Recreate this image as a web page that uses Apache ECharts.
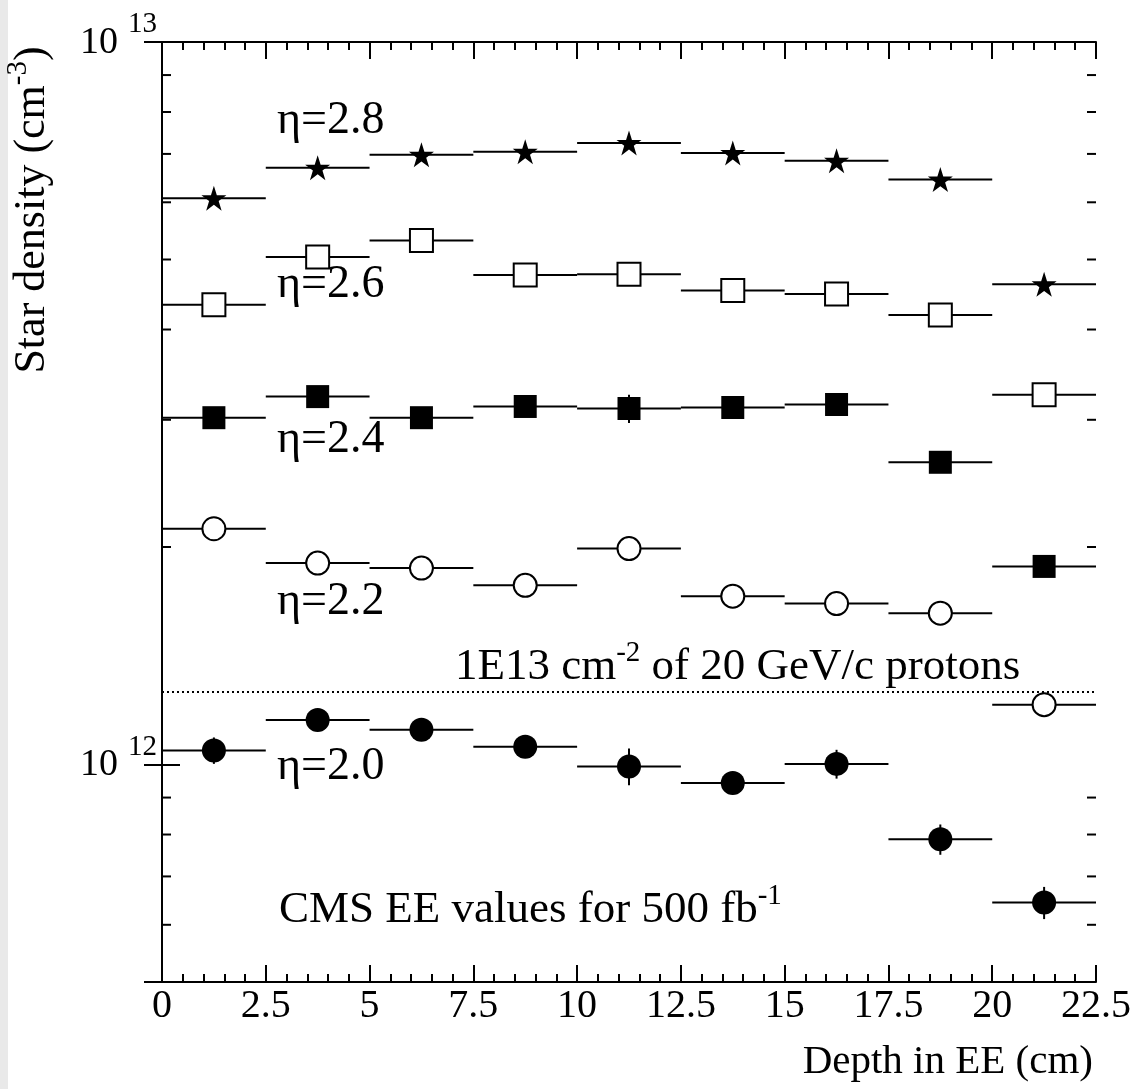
<!DOCTYPE html>
<html>
<head>
<meta charset="utf-8">
<title>Star density vs depth in EE</title>
<script src="https://cdn.jsdelivr.net/npm/echarts@6.0.0/dist/echarts.min.js"></script>
<style>
  html, body { margin: 0; padding: 0; background: #fff; }
  #chart { width: 1140px; height: 1089px; }
</style>
</head>
<body>
<div id="chart"></div>
<script>
// bin centres along the depth (cm), each bin is 2.5 cm wide
const depth = [1.25, 3.75, 6.25, 8.75, 11.25, 13.75, 16.25, 18.75, 21.25];
const halfBin = 1.25;

// star densities (cm^-3), one array per eta
const eta28 = [6.08e12, 6.70e12, 6.98e12, 7.05e12, 7.25e12, 7.02e12, 6.85e12, 6.45e12, 4.62e12];
const eta26 = [4.33e12, 5.04e12, 5.31e12, 4.76e12, 4.77e12, 4.53e12, 4.48e12, 4.19e12, 3.25e12];
const eta24 = [3.02e12, 3.23e12, 3.02e12, 3.13e12, 3.11e12, 3.12e12, 3.15e12, 2.62e12, 1.88e12];
const eta22 = [2.12e12, 1.90e12, 1.87e12, 1.77e12, 1.99e12, 1.71e12, 1.67e12, 1.62e12, 1.21e12];
const eta20 = [1.046e12, 1.152e12, 1.117e12, 1.058e12, 0.994e12, 0.943e12, 1.002e12, 0.788e12, 0.644e12];

// vertical errors (mostly hidden under the markers)
const err28 = [0, 0, 0, 0.08e12, 0, 0, 0, 0, 0];
const err26 = [0, 0, 0, 0, 0, 0, 0.15e12, 0, 0.12e12];
const err24 = [0, 0, 0, 0, 0.14e12, 0, 0, 0, 0];
const err22 = [0, 0, 0, 0, 0, 0, 0, 0, 0];
const err20 = [0.044e12, 0, 0, 0, 0.058e12, 0, 0.046e12, 0.038e12, 0.033e12];

// 1E13 cm^-2 of 20 GeV/c protons reference level
const protonLevel = 1.26e12;

// axis ranges and minor ticks of the log axis
const xMin = 0, xMax = 22.5, xStep = 2.5;
const yMin = 5e11, yMax = 1e13;
const yMinorTicks = [6e11, 7e11, 8e11, 9e11, 2e12, 3e12, 4e12, 5e12, 6e12, 7e12, 8e12, 9e12];

const FONT = '"Liberation Serif", "DejaVu Serif", serif';
const starPath = 'path://M50,0 L61.2,34.5 L97.6,34.5 L68.2,55.9 L79.4,90.5 L50,69.1 L20.6,90.5 L31.8,55.9 L2.4,34.5 L38.8,34.5 Z';

const chart = echarts.init(document.getElementById('chart'));

// horizontal bin width + vertical error, drawn through the axes
function errorBars(name, values, errs) {
  return {
    name: name + ' err',
    type: 'custom',
    z: 2,
    silent: true,
    data: values.map((v, i) => [depth[i], v, errs[i]]),
    renderItem: (params, api) => {
      const x = api.value(0), y = api.value(1), e = api.value(2);
      const a = api.coord([x - halfBin, y]);
      const b = api.coord([x + halfBin, y]);
      const children = [{
        type: 'line',
        shape: { x1: a[0], y1: a[1], x2: b[0], y2: b[1] },
        style: { stroke: '#000', lineWidth: 2 }
      }];
      if (e > 0) {
        const lo = api.coord([x, y - e]);
        const hi = api.coord([x, y + e]);
        children.push({
          type: 'line',
          shape: { x1: lo[0], y1: lo[1], x2: hi[0], y2: hi[1] },
          style: { stroke: '#000', lineWidth: 2 }
        });
      }
      return { type: 'group', children };
    }
  };
}

function markers(name, values, symbol, size, filled) {
  return {
    name,
    type: 'scatter',
    z: 3,
    symbol,
    symbolSize: size,
    data: values.map((v, i) => [depth[i], v]),
    itemStyle: {
      color: filled ? '#000' : '#fff',
      borderColor: '#000',
      borderWidth: filled ? 0 : 2,
      opacity: 1
    }
  };
}

const yTickLabel = v => {
  const e = Math.log10(v);
  if (Math.abs(e - Math.round(e)) > 1e-6) return '';
  return '{b|10}{s|' + Math.round(e) + '}';
};

const tickRich = {
  b: { fontSize: 38, fontFamily: FONT, color: '#000', verticalAlign: 'bottom', padding: [14, 0, 12, 0] },
  s: { fontSize: 29, fontFamily: FONT, color: '#000', verticalAlign: 'top', padding: [0, 0, 0, 10] }
};

const textRich = {
  t: { fontSize: 45, fontFamily: FONT, color: '#000', verticalAlign: 'bottom', padding: [6, 0, 0, 0] },
  s: { fontSize: 29, fontFamily: FONT, color: '#000', verticalAlign: 'top' }
};

const titleRich = {
  t: { fontSize: 44, fontFamily: FONT, color: '#000', verticalAlign: 'bottom', padding: [6, 0, 0, 0] },
  s: { fontSize: 29, fontFamily: FONT, color: '#000', verticalAlign: 'top' }
};

const option = {
  backgroundColor: '#fff',
  animation: false,
  grid: { left: 162, right: 44, top: 42, bottom: 107 },
  xAxis: [
    {
      type: 'value', min: xMin, max: xMax, interval: xStep, position: 'bottom',
      axisLine: { show: true, lineStyle: { color: '#000', width: 2 } },
      axisTick: { show: true, inside: true, length: 17, lineStyle: { color: '#000', width: 2 } },
      minorTick: { show: true, splitNumber: 5, length: 8, lineStyle: { color: '#000', width: 2 } },
      splitLine: { show: false },
      axisLabel: { color: '#000', fontSize: 40, fontFamily: FONT, margin: 4, showMinLabel: true, showMaxLabel: true }
    },
    {
      type: 'value', min: xMin, max: xMax, interval: xStep, position: 'top',
      axisLine: { show: true, lineStyle: { color: '#000', width: 2 } },
      axisTick: { show: true, inside: true, length: 17, lineStyle: { color: '#000', width: 2 } },
      minorTick: { show: true, splitNumber: 5, length: 8, lineStyle: { color: '#000', width: 2 } },
      splitLine: { show: false },
      axisLabel: { show: false }
    }
  ],
  yAxis: [
    {
      type: 'log', logBase: 10, min: yMin, max: yMax, position: 'left',
      axisLine: { show: true, lineStyle: { color: '#000', width: 2 } },
      axisTick: { show: true, inside: true, length: 18, lineStyle: { color: '#000', width: 2 } },
      splitLine: { show: false },
      axisLabel: { formatter: yTickLabel, rich: tickRich, margin: 5 }
    },
    {
      type: 'log', logBase: 10, min: yMin, max: yMax, position: 'right',
      axisLine: { show: true, lineStyle: { color: '#000', width: 2 } },
      axisTick: { show: true, inside: true, length: 18, lineStyle: { color: '#000', width: 2 } },
      splitLine: { show: false },
      axisLabel: { show: false }
    }
  ],
  series: [
    // minor ticks of the log axis, on both sides of the frame
    {
      name: 'y minor ticks',
      type: 'custom',
      silent: true,
      z: 1,
      data: yMinorTicks.map(v => [xMin, v]),
      renderItem: (params, api) => {
        const v = api.value(1);
        const l = api.coord([xMin, v]);
        const r = api.coord([xMax, v]);
        return {
          type: 'group',
          children: [
            { type: 'line', shape: { x1: l[0], y1: l[1], x2: l[0] + 9, y2: l[1] }, style: { stroke: '#000', lineWidth: 2 } },
            { type: 'line', shape: { x1: r[0], y1: r[1], x2: r[0] - 9, y2: r[1] }, style: { stroke: '#000', lineWidth: 2 } }
          ]
        };
      }
    },
    {
      name: 'proton level',
      type: 'line',
      data: [],
      markLine: {
        silent: true,
        symbol: ['none', 'none'],
        label: { show: false },
        lineStyle: { color: '#000', width: 2, type: [2, 3] },
        data: [{ yAxis: protonLevel }]
      }
    },
    errorBars('eta=2.8', eta28, err28),
    errorBars('eta=2.6', eta26, err26),
    errorBars('eta=2.4', eta24, err24),
    errorBars('eta=2.2', eta22, err22),
    errorBars('eta=2.0', eta20, err20),
    markers('eta=2.8', eta28, starPath, 25, true),
    markers('eta=2.6', eta26, 'rect', 23, false),
    markers('eta=2.4', eta24, 'rect', 23, true),
    markers('eta=2.2', eta22, 'circle', 23, false),
    markers('eta=2.0', eta20, 'circle', 24, true)
  ],
  graphic: [
    { type: 'rect', left: 0, top: 0, shape: { width: 8, height: 1089 }, style: { fill: '#e9e9e9' }, silent: true },
    {
      type: 'text', x: 29, y: 210, rotation: Math.PI / 2,
      style: { text: '{t|Star density (cm}{s|-3}{t|)}', rich: titleRich, align: 'center', verticalAlign: 'middle' }
    },
    {
      type: 'text', x: 1093, y: 1062,
      style: { text: 'Depth in EE (cm)', font: '41px ' + FONT, fill: '#000', align: 'right', verticalAlign: 'middle' }
    },
    { type: 'text', x: 277, y: 121, style: { text: 'η=2.8', font: '46px ' + FONT, fill: '#000', verticalAlign: 'middle' } },
    { type: 'text', x: 277, y: 285, style: { text: 'η=2.6', font: '46px ' + FONT, fill: '#000', verticalAlign: 'middle' } },
    { type: 'text', x: 277, y: 440, style: { text: 'η=2.4', font: '46px ' + FONT, fill: '#000', verticalAlign: 'middle' } },
    { type: 'text', x: 277, y: 602, style: { text: 'η=2.2', font: '46px ' + FONT, fill: '#000', verticalAlign: 'middle' } },
    { type: 'text', x: 277, y: 767, style: { text: 'η=2.0', font: '46px ' + FONT, fill: '#000', verticalAlign: 'middle' } },
    {
      type: 'text', x: 455, y: 664,
      style: { text: '{t|1E13 cm}{s|-2}{t| of 20 GeV/c protons}', rich: textRich, verticalAlign: 'middle' }
    },
    {
      type: 'text', x: 279, y: 907,
      style: { text: '{t|CMS EE values for 500 fb}{s|-1}', rich: textRich, verticalAlign: 'middle' }
    }
  ]
};

chart.setOption(option);
</script>
</body>
</html>
